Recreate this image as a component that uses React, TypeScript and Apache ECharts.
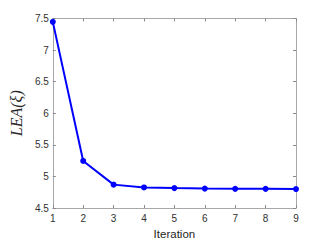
import React, { useEffect, useRef } from "react";
import * as echarts from "echarts";

const iterations = [1, 2, 3, 4, 5, 6, 7, 8, 9];
const leaValues = [7.447, 5.245, 4.87, 4.825, 4.815, 4.807, 4.803, 4.803, 4.8];

export default function App() {
  const ref = useRef<HTMLDivElement>(null);
  useEffect(() => {
    if (!ref.current) return;
    const chart = echarts.init(ref.current, null, { renderer: "svg" });
    const axisLine = { show: true, lineStyle: { color: "#a8a8a8", width: 1 } };
    const tickStyle = { show: true, inside: true, length: 3, lineStyle: { color: "#8a8a8a" } };
    chart.setOption({
      animation: false,
      backgroundColor: "#ffffff",
      grid: { left: 42, right: 31, top: 18.5, bottom: 29, containLabel: false },
      xAxis: [
        {
          type: "value",
          min: 1,
          max: 9,
          interval: 1,
          name: "Iteration",
          nameLocation: "middle",
          nameGap: 20,
          nameTextStyle: { fontFamily: "Liberation Sans, Arial", fontSize: 11.5, color: "#262626" },
          axisLine,
          axisTick: tickStyle,
          splitLine: { show: false },
          axisLabel: { fontFamily: "Liberation Sans, Arial", fontSize: 10, color: "#303030", margin: 5 },
        },
        {
          type: "value",
          position: "top",
          min: 1,
          max: 9,
          interval: 1,
          axisLine,
          axisTick: tickStyle,
          splitLine: { show: false },
          axisLabel: { show: false },
        },
      ],
      yAxis: [
        {
          type: "value",
          min: 4.5,
          max: 7.5,
          interval: 0.5,
          name: "LEA(\u03BE)",
          nameLocation: "middle",
          nameRotate: 90,
          nameGap: 21,
          nameTextStyle: {
            fontFamily: "Liberation Serif, DejaVu Serif, serif",
            fontStyle: "italic",
            fontSize: 16,
            color: "#262626",
          },
          axisLine,
          axisTick: tickStyle,
          splitLine: { show: false },
          axisLabel: { fontFamily: "Liberation Sans, Arial", fontSize: 10, color: "#303030", margin: 4 },
        },
        {
          type: "value",
          position: "right",
          min: 4.5,
          max: 7.5,
          interval: 0.5,
          axisLine,
          axisTick: tickStyle,
          splitLine: { show: false },
          axisLabel: { show: false },
        },
      ],
      series: [
        {
          type: "line",
          data: iterations.map((x, i) => [x, leaValues[i]]),
          symbol: "circle",
          symbolSize: 6,
          lineStyle: { color: "#0000ff", width: 2 },
          itemStyle: { color: "#0000ff" },
          clip: false,
        },
      ],
    });
    return () => chart.dispose();
  }, []);
  return <div ref={ref} style={{ width: 327, height: 245, position: "absolute", left: 0, top: 0 }} />;
}
